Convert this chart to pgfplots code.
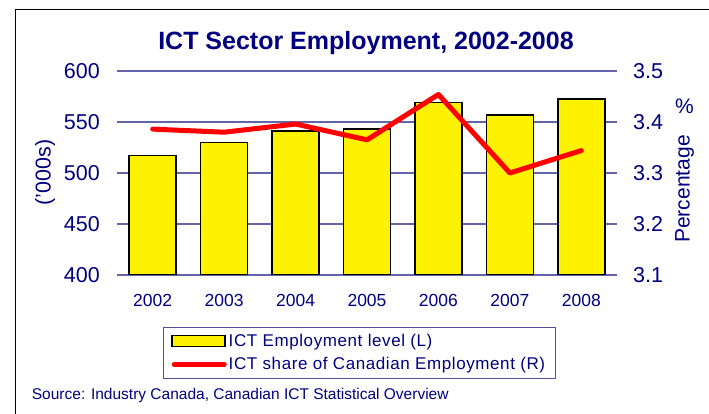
\documentclass[border=0pt]{standalone}
\usepackage{fontspec}
\setmainfont{Liberation Sans}
\newfontfamily\legfont[LetterSpace=3.5]{Liberation Sans}
\usepackage{pgfplots}
\pgfplotsset{compat=1.18}

\definecolor{navy}{RGB}{0,0,128}
\definecolor{gridc}{RGB}{100,100,170}
\definecolor{legc}{RGB}{80,80,160}

\begin{document}
\begin{tikzpicture}
\useasboundingbox (-117pt,-139pt) rectangle (592pt,275pt);

% frame (left and top edges only are visible)
\draw[black, line width=1.2pt] (-101.3pt,-139pt) -- (-101.3pt,265.7pt) -- (592pt,265.7pt);

\pgfplotsset{
  common/.style={
    scale only axis, width=500pt, height=204pt,
    at={(0pt,0pt)}, anchor=south west,
    xmin=-0.5, xmax=6.5,
    axis line style={draw=none},
    major tick length=0pt,
    tick style={draw=none},
    ticklabel style={text=navy, font=\fontsize{21.5}{24}\selectfont},
    /pgf/number format/assume math mode=true,
  },
}

% bars: ICT employment level, left axis
\begin{axis}[common,
  ymin=400, ymax=600, ytick={400,450,...,600},
  ymajorgrids, grid style={gridc, line width=1.1pt},
  axis x line*=bottom, axis y line*=left,
  xtick={0,...,6},
  xticklabels={2002,2003,2004,2005,2006,2007,2008},
  xticklabel style={anchor=base, yshift=-32pt, font=\fontsize{17.5}{20}\selectfont},
  yticklabel style={anchor=east, inner sep=0pt, xshift=-17pt},
]
\addplot[ybar, bar width=47pt, fill=yellow, draw=black, line width=1.5pt]
  coordinates {(0,517) (1,530) (2,541) (3,543) (4,569) (5,557) (6,572.5)};
\end{axis}

% line: share of Canadian employment, right axis
\begin{axis}[common,
  ymin=3.1, ymax=3.5, ytick={3.1,3.2,...,3.5},
  axis x line*=bottom, axis y line*=right,
  xtick=\empty,
  yticklabel style={anchor=west, inner sep=0pt, xshift=16pt,
    /pgf/number format/.cd, fixed, fixed zerofill, precision=1},
  legend style={at={(axis description cs:0.092,-0.255)}, anchor=north west,
    draw=legc, line width=1pt, fill=white, text=navy,
    font=\legfont\fontsize{17}{19}\selectfont,
    inner xsep=8pt, inner ysep=5pt, row sep=5pt,
    cells={anchor=west}},
]
\addlegendimage{legend image code/.code={
  \draw[fill=yellow, draw=black, line width=1.5pt] (0pt,-5pt) rectangle (53pt,6pt);}}
\addlegendentry{ICT Employment level (L)}
\addplot[red, line width=5pt, line join=round, line cap=round,
  legend image code/.code={\draw[red, line width=5pt, line cap=round] (2pt,0pt) -- (52pt,0pt);}]
  coordinates {(0,3.386) (1,3.380) (2,3.396) (3,3.365) (4,3.454) (5,3.300) (6,3.344)};
\addlegendentry{ICT share of Canadian Employment (R)}
\end{axis}

\node[anchor=base, text=navy, font=\bfseries\fontsize{25}{28}\selectfont] at (249pt,225.7pt)
  {ICT Sector Employment, 2002-2008};
\node[rotate=90, text=navy, font=\fontsize{21.5}{24}\selectfont, inner sep=0pt] at (-72pt,102.5pt) {('000s)};
\node[rotate=90, text=navy, font=\fontsize{21}{24}\selectfont, inner sep=0pt] at (567.5pt,86pt) {Percentage};
\node[text=navy, font=\fontsize{21}{24}\selectfont, inner sep=0pt] at (567.5pt,169pt) {\%};
\node[anchor=base west, text=navy, font=\fontsize{15.5}{18}\selectfont, inner sep=0pt] at (-85.3pt,-124.5pt)
  {Source: Industry Canada, Canadian ICT Statistical Overview};
\end{tikzpicture}
\end{document}
